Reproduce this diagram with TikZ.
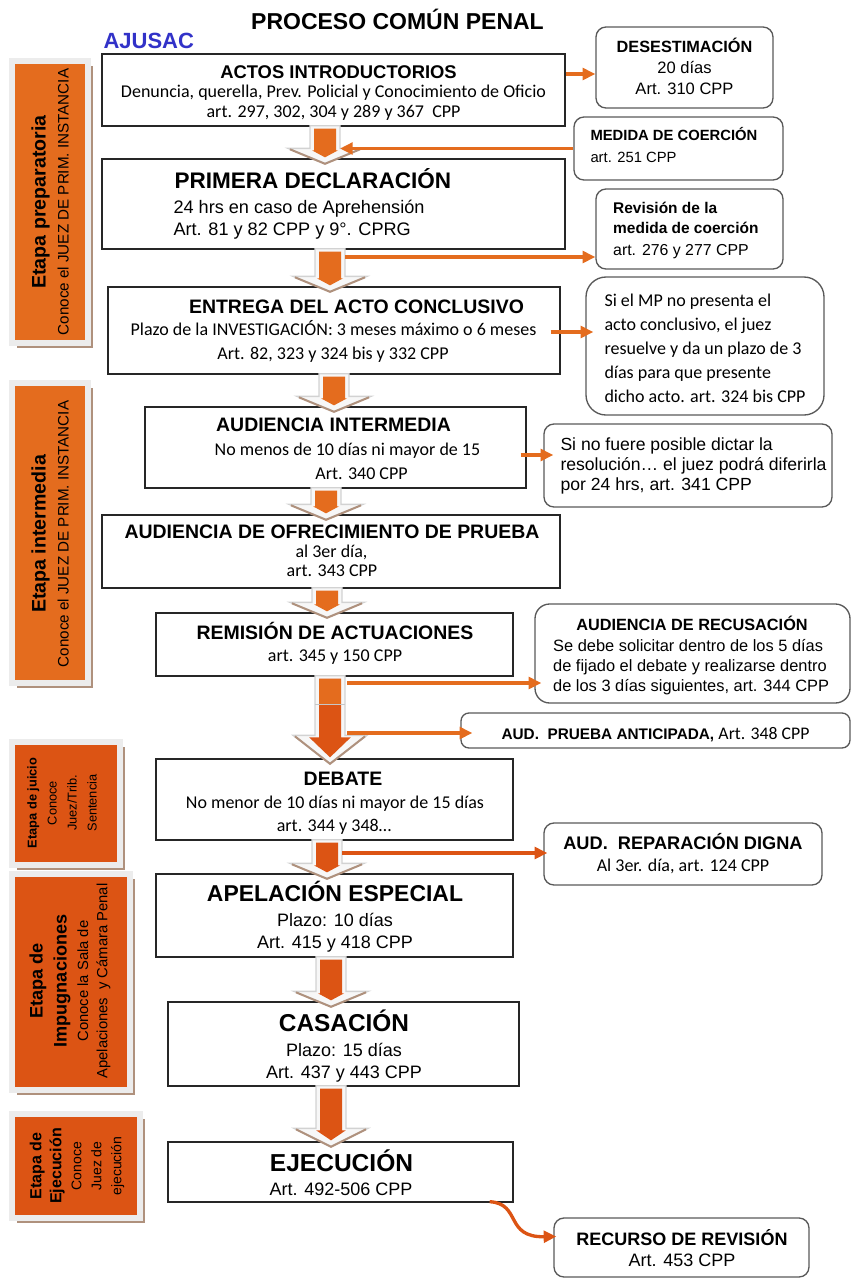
\documentclass[tikz,border=0pt]{standalone}
\usepackage{fontspec}
\setmainfont{Liberation Sans}
\newfontfamily\calibri{Carlito}
\usetikzlibrary{calc,fit,arrows.meta,shadows}

\definecolor{orA}{RGB}{228,108,30}
\definecolor{orB}{RGB}{220,84,20}
\definecolor{azulaj}{RGB}{50,50,200}
\definecolor{marco}{RGB}{236,236,236}
\definecolor{sombraC}{RGB}{175,145,125}

\newcommand{\tam}[2]{\fontsize{#1}{#2}\selectfont}

% flecha de bloque: #1 punta, #2 x, #3 caja de arriba, #4 caja de abajo, #5 color
\newcommand{\bloque}[5][15]{%
  \coordinate (bx) at (#2,0);
  \coordinate (bt) at (#3.south -| bx);
  \coordinate (bp) at ($(#4.north -| bx)+(0,5)$);
  \coordinate (bh) at ($(bp)+(0,-#1)$);
  \draw[bloquefondo] ($(bt)+(-15,-1)$) -- ($(bh)+(-15,0)$) -- ($(bh)+(-37,0)$) -- (bp)
     -- ($(bh)+(37,0)$) -- ($(bh)+(15,0)$) -- ($(bt)+(15,-1)$) -- cycle;
  \draw[bloquesombra] ($(bh)+(-35,1)$) -- ($(bp)+(0,0.5)$) -- ($(bh)+(35,1)$);
  \fill[#5] ($(bt)+(-11,2)$) -- ($(bh)+(-11,2)$) -- ($(bh)+({-(0.6*#1+4)},2)$) -- ($(bp)+(0,-6)$)
     -- ($(bh)+({0.6*#1+4},2)$) -- ($(bh)+(11,2)$) -- ($(bt)+(11,2)$) -- cycle;
}

\tikzset{every picture/.style={line width=0.75pt}}
\tikzset{
  caja/.style={draw=black!85, line width=1pt, inner sep=0pt},
  nota/.style={draw=black!65, line width=1pt, rounded corners=#1, inner sep=0pt},
  nota/.default=7.5pt,
  etapa/.style={fill=#1, draw=marco, line width=4.5pt, inner sep=2.25pt,
    drop shadow={shadow xshift=3.75pt, shadow yshift=-3.75pt, fill=sombraC, opacity=1}},
  txt/.style={inner sep=0pt, anchor=base},
  txtw/.style={inner sep=0pt, anchor=base west, align=left},
  girado/.style={inner sep=0pt, rotate=90, align=center},
  flecha/.style={draw=#1, line width=2.5pt, -{Triangle[length=9.5pt,width=8.8pt]}},
  flecha/.default=orA,
  bloquefondo/.style={fill=gray!6, draw=gray!35, line width=1pt},
  bloquesombra/.style={draw=sombraC, line width=1.5pt},
}

\begin{document}
\begin{tikzpicture}[x=0.75pt,y=0.75pt,yscale=-1,xscale=1]
\useasboundingbox (0,0) rectangle (851,1279);

% Text Node
\node[txt, font=\bfseries\tam{17.25}{20}] (titulo) at (397.5,29.3) {PROCESO COMÚN PENAL};
% Text Node
\node[txtw, font=\bfseries\tam{16.5}{20}, text=azulaj] (ajusac) at (103,48.3) {AJUSAC};

%Shape: Etapas
\node[etapa=orA, fit={(15,64) (85,340)}] (e1) {};
\node[etapa=orA, fit={(15,386) (85,680)}] (e2) {};
\node[etapa=orB, fit={(15,745) (117,862)}] (e3) {};
\node[etapa=orB, fit={(15,877) (127,1087)}] (e4) {};
\node[etapa=orB, fit={(15,1117) (137,1215)}] (e5) {};

% Text Node
\node[girado, font=\tam{11.4}{17.25}] (e1-t) at (50,202) {{\bfseries\tam{14.7}{17.25}Etapa preparatoria}\\Conoce el JUEZ DE PRIM. INSTANCIA};
\node[girado, font=\tam{11.4}{17.25}] (e2-t) at (50,534) {{\bfseries\tam{14.7}{17.25}Etapa intermedia}\\Conoce el JUEZ DE PRIM. INSTANCIA};
\node[girado, font=\tam{9.6}{15}] (e3-t) at (62,803) {{\bfseries Etapa de juicio}\\Conoce\\Juez/Trib.\\Sentencia};
\node[girado, font=\tam{11.1}{14.5}] (e4-t) at (70,981) {{\bfseries\tam{13.6}{14.5}Etapa de}\\[3.5pt]{\bfseries\tam{13.6}{14.5}Impugnaciones}\\[1.5pt]Conoce la Sala de\\Apelaciones\ \ y Cámara Penal};
\node[girado, font=\tam{10.5}{15}] (e5-t) at (77,1166) {{\bfseries\tam{12}{15}Etapa de}\\{\bfseries\tam{12}{15}Ejecución}\\Conoce\\Juez de\\ejecución};

%Shape: Rectangle
\node[caja, fit={(102,54) (565,126)}] (actos) {};
\node[caja, fit={(102,159) (565,249)}] (primera) {};
\node[caja, fit={(108,287) (560,374)}] (entrega) {};
\node[caja, fit={(145,407) (526,488)}] (audint) {};
\node[caja, fit={(102,515) (560,588)}] (ofrec) {};
\node[caja, fit={(156,613) (513,676)}] (remision) {};
\node[caja, fit={(156,759) (513,840)}] (debate) {};
\node[caja, fit={(156,874) (513,957)}] (apel) {};
\node[caja, fit={(168,1002) (519,1086)}] (casacion) {};
\node[caja, fit={(168,1142) (513,1202)}] (ejec) {};

%Shape: Rounded Rectangle
\node[nota, fit={(596,27) (773,108)}] (desest) {};
\node[nota, fit={(574,117) (783,180)}] (medida) {};
\node[nota, fit={(596,189) (783,269)}] (revision) {};
\node[nota=15pt, fit={(586,277) (824,415)}] (simp) {};
\node[nota, fit={(544,424) (832,507)}] (sinofuere) {};
\node[nota=11pt, fit={(535,604) (850,703)}] (recus) {};
\node[nota=6pt, fit={(461,713) (850,748)}] (anticip) {};
\node[nota, fit={(544,823) (822,885)}] (repar) {};
\node[nota, fit={(554,1218) (809,1277)}] (recurso) {};

% Text Node
\node[txt, font=\bfseries\tam{13.8}{16}] (actos-a) at (338.5,78.3) {ACTOS INTRODUCTORIOS};
\node[txt, font=\calibri\tam{13.5}{16}] (actos-b) at (333.5,97.3) {Denuncia, querella, Prev. Policial y Conocimiento de Oficio};
\node[txt, font=\calibri\tam{13.5}{16}] (actos-c) at (333.5,117.3) {art. 297, 302, 304 y 289 y 367\ \ CPP};
% Text Node
\node[txtw, font=\bfseries\tam{16.9}{20}] (primera-a) at (174,188.3) {PRIMERA DECLARACIÓN};
\node[txtw, font=\tam{13.6}{16.5}] (primera-b) at (173,235) {24 hrs en caso de Aprehensión\\Art. 81 y 82 CPP y 9°. CPRG};
% Text Node
\node[txt, font=\bfseries\tam{14.6}{18}] (entrega-a) at (356.5,313.3) {ENTREGA DEL ACTO CONCLUSIVO};
\node[txt, font=\calibri\tam{13.5}{16}] (entrega-b) at (333.5,335) {Plazo de la INVESTIGACIÓN: 3 meses máximo o 6 meses};
\node[txt, font=\calibri\tam{13.5}{16}] (entrega-c) at (333,359) {Art. 82, 323 y 324 bis y 332 CPP};
% Text Node
\node[txt, font=\bfseries\tam{14.6}{18}] (audint-a) at (333.5,431.7) {AUDIENCIA INTERMEDIA};
\node[txt, font=\calibri\tam{13.5}{16}] (audint-b) at (347.5,455) {No menos de 10 días ni mayor de 15};
\node[txt, font=\calibri\tam{13.5}{16}] (audint-c) at (361.5,479) {Art. 340 CPP};
% Text Node
\node[txt, font=\bfseries\tam{14.6}{18}] (ofrec-a) at (332,538.3) {AUDIENCIA DE OFRECIMIENTO DE PRUEBA};
\node[txt, font=\calibri\tam{13.5}{16}] (ofrec-b) at (331.5,557.3) {al 3er día,};
\node[txt, font=\calibri\tam{13.5}{16}] (ofrec-c) at (332,576) {art. 343 CPP};
% Text Node
\node[txt, font=\bfseries\tam{14.6}{18}] (remision-a) at (335,639.3) {REMISIÓN DE ACTUACIONES};
\node[txt, font=\calibri\tam{13.5}{16}] (remision-b) at (335,661.7) {art. 345 y 150 CPP};
% Text Node
\node[txt, font=\bfseries\tam{14.6}{18}] (debate-a) at (343,785) {DEBATE};
\node[txt, font=\calibri\tam{13.5}{16}] (debate-b) at (335,808.3) {No menor de 10 días ni mayor de 15 días};
\node[txt, font=\calibri\tam{13.5}{16}] (debate-c) at (334,831.7) {art. 344 y 348…};
% Text Node
\node[txt, font=\bfseries\tam{17.2}{20}] (apel-a) at (335,901.7) {APELACIÓN ESPECIAL};
\node[txt, font=\tam{13.5}{16}] (apel-b) at (335,926) {Plazo: 10 días};
\node[txt, font=\tam{13.5}{16}] (apel-c) at (335,948.3) {Art. 415 y 418 CPP};
% Text Node
\node[txt, font=\bfseries\tam{18.3}{20}] (casacion-a) at (344,1031.7) {CASACIÓN};
\node[txt, font=\tam{13.5}{16}] (casacion-b) at (344,1056.7) {Plazo: 15 días};
\node[txt, font=\tam{13.5}{16}] (casacion-c) at (344,1078.3) {Art. 437 y 443 CPP};
% Text Node
\node[txt, font=\bfseries\tam{18.4}{20}] (ejec-a) at (341.5,1171.7) {EJECUCIÓN};
\node[txt, font=\tam{13.5}{16}] (ejec-b) at (341,1195) {Art. 492-506 CPP};

% Text Node
\node[txt, font=\bfseries\tam{12.2}{15}] (desest-a) at (684.5,52.7) {DESESTIMACIÓN};
\node[txt, font=\tam{12.4}{15}] (desest-b) at (684.5,73.3) {20 días};
\node[txt, font=\tam{12.4}{15}] (desest-c) at (684.5,94) {Art. 310 CPP};
% Text Node
\node[txtw, font=\bfseries\tam{11.1}{14}] (medida-a) at (590,140) {MEDIDA DE COERCIÓN};
\node[txtw, font=\tam{11.1}{14}] (medida-b) at (590,162.7) {art. 251 CPP};
% Text Node
\node[txtw, font=\bfseries\tam{11.6}{15}] (revision-a) at (612.7,233.3) {Revisión de la\\medida de coerción};
\node[txtw, font=\tam{11.9}{15}] (revision-b) at (612.7,255) {art. 276 y 277 CPP};
% Text Node
\node[txtw, font=\calibri\tam{13.5}{17.9}] (simp-t) at (604,402.3) {Si el MP no presenta el\\acto conclusivo, el juez\\resuelve y da un plazo de 3\\días para que presente\\dicho acto. art. 324 bis CPP};
% Text Node
\node[txtw, font=\tam{13.2}{15}] (sinofuere-t) at (560,490) {Si no fuere posible dictar la\\resolución… el juez podrá diferirla\\por 24 hrs, art. 341 CPP};
% Text Node
\node[txt, font=\bfseries\tam{12.2}{15}] (recus-a) at (692,630.7) {AUDIENCIA DE RECUSACIÓN};
\node[txtw, font=\tam{12.3}{15}] (recus-b) at (552.7,691) {Se debe solicitar dentro de los 5 días\\de fijado el debate y realizarse dentro\\de los 3 días siguientes, art. 344 CPP};
% Text Node
\node[txt, font=\bfseries\tam{11.5}{15}] (anticip-t) at (655.5,739) {AUD.\ \ PRUEBA ANTICIPADA, {\mdseries\calibri\tam{13.3}{15}Art. 348 CPP}};
% Text Node
\node[txt, font=\bfseries\tam{13.65}{16}] (repar-a) at (683,849.3) {AUD.\ \ REPARACIÓN DIGNA};
\node[txt, font=\calibri\tam{13.5}{16}] (repar-b) at (683,871.7) {Al 3er. día, art. 124 CPP};
% Text Node
\node[txt, font=\bfseries\tam{13.5}{16}] (recurso-a) at (682,1245) {RECURSO DE REVISIÓN};
\node[txt, font=\tam{13.5}{16}] (recurso-b) at (682,1266.7) {Art. 453 CPP};

%Block Arrows
\bloque{325}{actos}{primera}{orA}
\bloque{330}{primera}{entrega}{orA}
\bloque{334}{entrega}{audint}{orA}
\bloque{326}{audint}{ofrec}{orA}
\bloque{327}{ofrec}{remision}{orA}
\bloque[28]{330}{remision}{debate}{orB}
\fill[orA] ($(bt)+(-11,2)$) rectangle ($(bt)+(11,28)$);
\draw[gray!45, line width=1pt] ($(bt)+(-15,28)$) -- ($(bt)+(15,28)$);
\bloque{327}{debate}{apel}{orB}
\bloque{331}{apel}{casacion}{orB}
\bloque[18]{331}{casacion}{ejec}{orB}

%Straight Lines
\coordinate (c1) at ($(desest.west)+(0,6.5)$);
\draw[flecha] (actos.east |- c1) -- (c1);
\coordinate (c2) at (340,0);
\draw[flecha] (medida.west) -- (medida.west -| c2);
\coordinate (c3) at ($(revision.west)+(0,28)$);
\coordinate (c3s) at (345,0);
\draw[flecha] (c3 -| c3s) -- (c3);
\coordinate (c4) at ($(simp.west)+(8,-14)$);
\draw[flecha] ($(entrega.east |- c4)+(-10,0)$) -- (c4);
\coordinate (c5) at ($(sinofuere.west)+(10,-10.5)$);
\draw[flecha] ($(audint.east |- c5)+(-6,0)$) -- (c5);
\coordinate (c6s) at (347,0);
\coordinate (c6) at ($(recus.west)+(7,29.5)$);
\draw[flecha] (c6 -| c6s) -- (c6);
\coordinate (c7) at ($(anticip.west)+(12,2.5)$);
\draw[flecha] (c7 -| c6s) -- (c7);
\coordinate (c8s) at (342,0);
\coordinate (c8) at ($(repar.west)+(4,-1)$);
\draw[flecha=orB] (c8 -| c8s) -- (c8);
%Curve Lines
\coordinate (c9s) at ($(ejec.south east)+(-24,-1)$);
\coordinate (c9) at ($(recurso.west)+(3,-11)$);
\draw[flecha=orB] (c9s) .. controls +(32,2) and +(-52,1) .. (c9);

\end{tikzpicture}
\end{document}
